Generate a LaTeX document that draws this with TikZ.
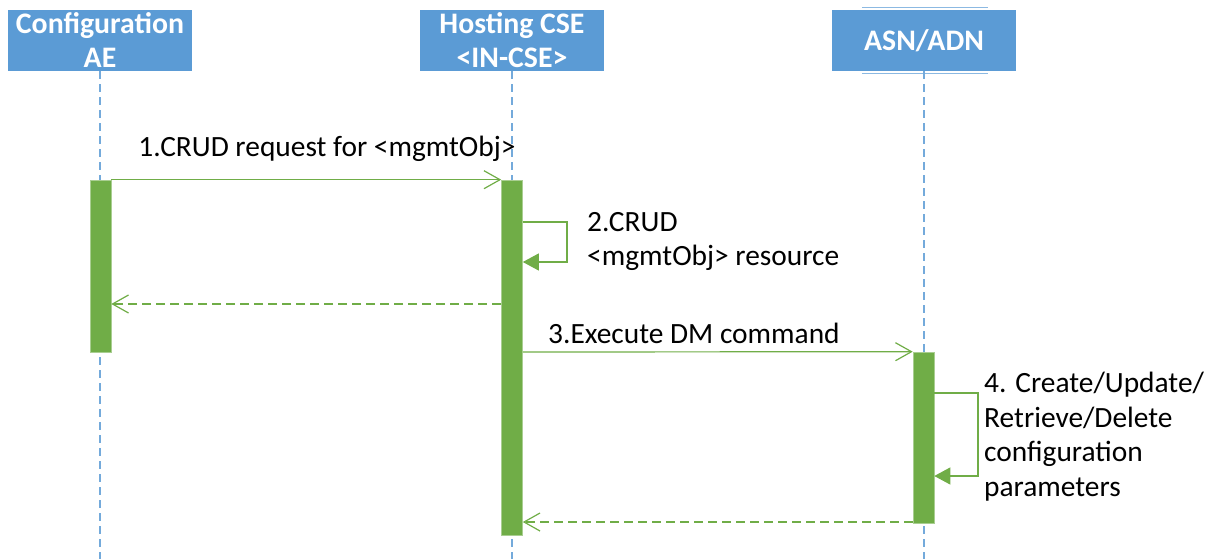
\documentclass[tikz,border=0pt]{standalone}
\usepackage{fontspec}
\setmainfont{Carlito}
\usetikzlibrary{arrows.meta}
\definecolor{hdrblue}{HTML}{5B9BD5}
\definecolor{actgreen}{HTML}{70AD47}

\begin{document}
\begin{tikzpicture}
  [x=1pt,y=-1pt,
   head/.style={rectangle,fill=hdrblue,text=white,inner sep=0pt,align=center,
     minimum width=184pt,minimum height=61pt,font=\fontsize{29.8}{34}\selectfont\bfseries},
   life/.style={hdrblue!85,line width=1.1pt,dash pattern=on 8pt off 5pt},
   bar/.style={rectangle,fill=actgreen,draw=actgreen!60,line width=0.6pt,minimum width=21pt,inner sep=0pt},
   msg/.style={actgreen,line width=1.2pt,-{Straight Barb[length=16pt,width=18pt,line width=1.2pt]}},
   ret/.style={msg,dash pattern=on 9pt off 5pt},
   selfmsg/.style={actgreen,line width=1.2pt,-{Triangle[length=16pt,width=17pt]}},
   lbl/.style={inner sep=0pt,align=left,font=\fontsize{29.4}{34.5}\selectfont}]
  \useasboundingbox (0,0) rectangle (1208,559);

  % header boxes
  \node[head] (cae) at (100,40.5) {Configuration\\AE};
  \node[head] (cse) at (512,40.5) {Hosting CSE\\<IN-CSE>};
  \node[head] (asn) at (924,40.5) {ASN/ADN};
  \draw[hdrblue!70,line width=0.8pt] ([xshift=30pt,yshift=2pt]asn.north west) -- ([xshift=-28pt,yshift=2pt]asn.north east);
  \draw[hdrblue!70,line width=0.8pt] ([xshift=30pt,yshift=-2pt]asn.south west) -- ([xshift=-28pt,yshift=-2pt]asn.south east);

  % lifelines
  \coordinate (caeend) at (100,559);
  \coordinate (cseend) at (512,559);
  \coordinate (asnend) at (924,559);
  \draw[life] (cae.south) -- (caeend);
  \draw[life] (cse.south) -- (cseend);
  \draw[life] (asn.south) -- (asnend);

  % activation bars
  \node[bar,minimum height=172pt] (bar1) at (100.5,266) {};
  \node[bar,minimum height=355pt] (bar2) at (512,357.5) {};
  \node[bar,minimum height=171pt] (bar3) at (923.5,437.5) {};

  % messages
  \draw[msg] (bar1.north east) -- (bar2.north west);
  \node[lbl,anchor=base] (l1) at (327,157) {1.CRUD request for <mgmtObj>};

  \draw[selfmsg] (bar2.east |- 0,222) -- (567,222) -- (567,262) -- (bar2.east |- 0,262);
  \node[lbl,anchor=north west] (l2) at (587,212) {2.CRUD\\<mgmtObj> resource};

  \draw[ret] (bar2.west |- 0,304) -- (bar1.east |- 0,304);

  \draw[msg] (bar2.east |- 0,352) -- (bar3.north west);
  \node[lbl,anchor=base west] (l3) at (548,343) {3.Execute DM command};

  \draw[selfmsg] (bar3.east |- 0,393) -- (978,393) -- (978,476) -- (bar3.east |- 0,476);
  \node[lbl,anchor=north west] (l4) at (984,372) {4. Create/Update/\\Retrieve/Delete\\configuration\\parameters};

  \draw[ret] (bar3.west |- 0,522) -- (bar2.east |- 0,522);
\end{tikzpicture}
\end{document}
